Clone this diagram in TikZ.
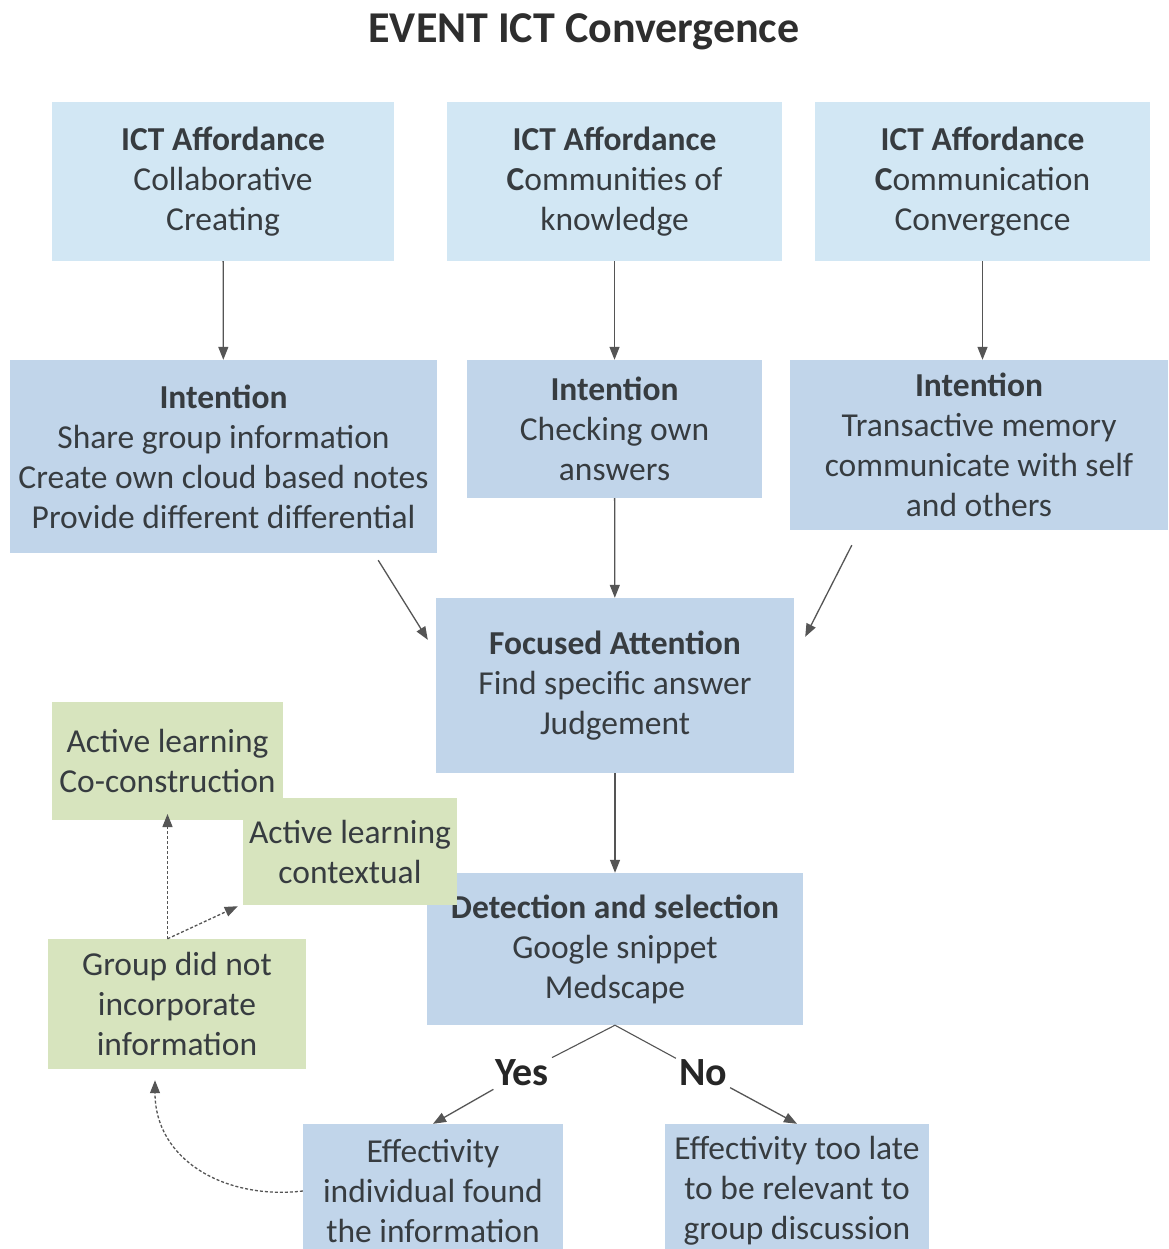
\documentclass[tikz,border=0pt]{standalone}
\usepackage{fontspec}
\setmainfont{Carlito}
\usetikzlibrary{arrows.meta,calc}
\definecolor{topblue}{RGB}{210,231,244}
\definecolor{midblue}{RGB}{193,213,234}
\definecolor{olive}{RGB}{215,228,190}
\definecolor{ink}{RGB}{55,60,64}
\definecolor{linegray}{RGB}{85,85,85}
\begin{document}
\begin{tikzpicture}[x=1pt,y=-1pt,
  box/.style={inner sep=0pt, align=center, text=ink,
    font=\fontsize{33.5}{40}\selectfont},
  topbox/.style={box, fill=topblue},
  midbox/.style={box, fill=midblue},
  greenbox/.style={box, fill=olive},
  arr/.style={draw=linegray, line width=1.3pt,
    -{Triangle[length=13pt,width=10pt]}},
  darr/.style={arr, dashed, dash pattern=on 3pt off 2pt},
  link/.style={draw=linegray, line width=1.1pt},
  lbl/.style={inner sep=3pt, text=black!85, font=\fontsize{40}{44}\selectfont\bfseries}
]
\clip (0,0) rectangle (1168,1249);
\fill[white] (0,0) rectangle (1168,1249);

% heading
\node[text=black!82, font=\fontsize{44}{48}\selectfont\bfseries] (title) at (584,32) {EVENT ICT Convergence};

% affordance row
\node[topbox, minimum width=342pt, minimum height=159pt] (aff1) at (223,181.5)
  {\textbf{ICT Affordance}\\Collaborative\\Creating};
\node[topbox, minimum width=335pt, minimum height=159pt] (aff2) at (614.5,181.5)
  {\textbf{ICT Affordance}\\\textbf{C}ommunities of\\knowledge};
\node[topbox, minimum width=335pt, minimum height=159pt] (aff3) at (982.5,181.5)
  {\textbf{ICT Affordance}\\\textbf{C}ommunication\\Convergence};

% intention row
\node[midbox, minimum width=427pt, minimum height=193pt] (int1) at (223.5,456.5)
  {\textbf{Intention}\\Share group information\\Create own cloud based notes\\Provide different differential};
\node[midbox, minimum width=295pt, minimum height=138pt] (int2) at (614.5,429)
  {\textbf{Intention}\\Checking own\\answers};
\node[midbox, minimum width=378pt, minimum height=170pt] (int3) at (979,445)
  {\textbf{Intention}\\Transactive memory\\communicate with self\\and others};

% attention and detection
\node[midbox, minimum width=358pt, minimum height=175pt] (foc) at (615,685.5)
  {\textbf{Focused Attention}\\Find specific answer\\Judgement};
\node[midbox, minimum width=376pt, minimum height=152pt] (det) at (615,949)
  {\textbf{Detection and selection}\\Google snippet\\Medscape};

% learning outcomes
\node[greenbox, minimum width=231pt, minimum height=118pt] (g1) at (167.5,761)
  {Active learning\\Co-construction};
\node[greenbox, minimum width=214pt, minimum height=107pt] (g2) at (350,851.5)
  {Active learning\\contextual};
\node[greenbox, minimum width=258pt, minimum height=130pt] (g3) at (177,1004)
  {Group did not\\incorporate\\information};

% effectivity
\node[midbox, minimum width=260pt, minimum height=134pt] (eff1) at (433,1191)
  {Effectivity\\individual found\\the information};
\node[midbox, minimum width=264pt, minimum height=134pt] (eff2) at (797,1191)
  {Effectivity too late\\to be relevant to\\group discussion};

% decision labels
\node[lbl] (yes) at (522,1073) {Yes};
\node[lbl] (no) at (703,1073) {No};

% connectors
\draw[arr] (aff1) -- (int1);
\draw[arr] (aff2) -- (int2);
\draw[arr] (aff3.south) -- (aff3.south |- int3.north);
\draw[arr] (int2) -- (foc);
\draw[arr] ($(int1.south east)+(-59,7)$) -- ($(foc.north west)+(-8,42)$);
\draw[arr] ($(int3.south west)+(62,15)$) -- ($(foc.north east)+(11,39)$);
\draw[arr] (foc) -- (det);
\draw[link] (det.south) -- (yes);
\draw[link] (det.south) -- (no);
\draw[arr] (yes) -- (eff1.north);
\draw[arr] (no) -- (eff2.north);
\draw[darr] (g3.north -| g1.south) -- (g1.south |- 0,814);
\draw[darr] (g3.north -| g1.south) -- ($(g2.south west)+(-5,1)$);
\draw[darr] (eff1.west) .. controls (225,1200) and (155,1160) .. ($(g3.south)+(-22,11)$);
\end{tikzpicture}
\end{document}
